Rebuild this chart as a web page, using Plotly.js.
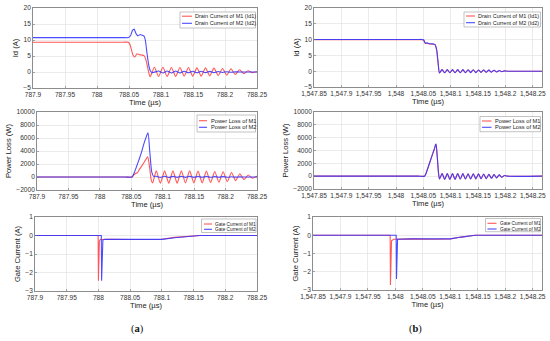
<!DOCTYPE html>
<html><head><meta charset="utf-8">
<script src="https://cdn.plot.ly/plotly-3.0.1.min.js"></script>
<style>html,body{margin:0;padding:0;background:#fff}#c{width:550px;height:341px}</style>
</head><body><div id="c"></div>
<script>
// ---------- tick labels ----------
const xTicksA = [787.9, 787.95, 788, 788.05, 788.1, 788.15, 788.2, 788.25];
const xTickTextA = ['787.9', '787.95', '788', '788.05', '788.1', '788.15', '788.2', '788.25'];
const xTicksB = [1547.85, 1547.9, 1547.95, 1548, 1548.05, 1548.1, 1548.15, 1548.2, 1548.25];
const xTickTextB = ['1,547.85', '1,547.9', '1,547.95', '1,548', '1,548.05', '1,548.1', '1,548.15', '1,548.2', '1,548.25'];

// ---------- (a) drain current ----------
const tIdA1 = [787.9, 788.04, 788.049, 788.0515, 788.056, 788.059, 788.0625, 788.066, 788.070, 788.0735, 788.0765, 788.0800, 788.083,
  788.0897, 788.0963, 788.1030, 788.1096, 788.1163, 788.1229, 788.1296, 788.1362, 788.1429, 788.1495, 788.1562, 788.1628,
  788.1695, 788.1761, 788.1828, 788.1894, 788.1961, 788.2027, 788.2094, 788.2160, 788.2227, 788.2293, 788.2360, 788.2426, 788.2493, 788.25];
const idA1 = [9.3, 9.3, 9.3, 8.6, 5.4, 4.7, 5.7, 5.4, 5.3, 5.1, 3.8, 0.6, -1.5,
  1.5, -1.4, 1.5, -1.4, 1.4, -1.4, 1.4, -1.3, 1.4, -1.3, 1.3, -1.3,
  1.3, -1.2, 1.2, -1.1, 1.1, -1.0, 1.0, -0.8, 0.7, -0.5, 0.4, -0.2, 0.1, 0];
const tIdA2 = [787.9, 788.04, 788.049, 788.0525, 788.0555, 788.058, 788.061, 788.064, 788.0675, 788.0705, 788.0735, 788.0755, 788.078, 788.081, 788.0835, 788.0865,
  788.0963, 788.1030, 788.1096, 788.1163, 788.1229, 788.1296, 788.1362, 788.1429, 788.1495, 788.1562, 788.1628,
  788.1695, 788.1761, 788.1828, 788.1894, 788.1961, 788.2027, 788.2094, 788.2160, 788.2227, 788.25];
const idA2 = [10.75, 10.75, 10.75, 11.4, 13.0, 13.4, 12.0, 11.3, 11.7, 11.5, 11.2, 10.0, 6.0, 2.0, 0.3, -0.2,
  0.3, -0.3, 0.3, -0.3, 0.3, -0.3, 0.25, -0.25, 0.25, -0.25, 0.25,
  -0.2, 0.2, -0.2, 0.15, -0.15, 0.1, -0.1, 0.05, 0, 0];

// ---------- (b) drain current ----------
const tIdB1 = [1547.85, 1548.040, 1548.047, 1548.0505, 1548.0525, 1548.0545, 1548.057, 1548.060, 1548.063, 1548.066, 1548.069, 1548.0715, 1548.0745, 1548.0770, 1548.0795,
  1548.0843, 1548.0890, 1548.0938, 1548.0985, 1548.1033, 1548.1080, 1548.1128, 1548.1175, 1548.1223, 1548.1270, 1548.1318, 1548.1365, 1548.1413,
  1548.1460, 1548.1508, 1548.1555, 1548.1603, 1548.1650, 1548.1698, 1548.1745, 1548.1793, 1548.1840, 1548.1888, 1548.1935, 1548.1983, 1548.2030, 1548.267];
const idB1 = [9.95, 9.95, 9.95, 9.8, 9.0, 8.75, 8.85, 8.65, 8.6, 8.55, 8.5, 8.3, 6.5, 2.5, -0.55,
  0.5, -0.5, 0.5, -0.5, 0.5, -0.5, 0.5, -0.5, 0.5, -0.5, 0.45, -0.45, 0.45,
  -0.45, 0.4, -0.4, 0.4, -0.35, 0.35, -0.3, 0.3, -0.25, 0.2, -0.15, 0.1, 0, 0];
const tIdB2 = tIdB1;
const idB2 = [10.05, 10.05, 10.05, 9.95, 9.2, 8.85, 8.95, 8.75, 8.7, 8.65, 8.6, 8.4, 6.6, 2.6, -0.55,
  0.5, -0.5, 0.5, -0.5, 0.5, -0.5, 0.5, -0.5, 0.5, -0.5, 0.45, -0.45, 0.45,
  -0.45, 0.4, -0.4, 0.4, -0.35, 0.35, -0.3, 0.3, -0.25, 0.2, -0.15, 0.1, 0, 0];

// ---------- (a) power loss ----------
const tPA1 = [787.9, 788.04, 788.051, 788.0535, 788.0565, 788.0595, 788.0625, 788.066, 788.070, 788.0735, 788.0762, 788.0795, 788.0820, 788.0840,
  788.0897, 788.0963, 788.1030, 788.1096, 788.1163, 788.1229, 788.1296, 788.1362, 788.1429, 788.1495, 788.1562, 788.1628,
  788.1695, 788.1761, 788.1828, 788.1894, 788.1961, 788.2027, 788.2094, 788.2160, 788.2227, 788.2293, 788.2360, 788.2426, 788.2493, 788.25];
const pA1 = [0, 0, 0, 250, 550, 650, 1100, 1600, 2200, 2750, 3100, 1200, -600, -900,
  950, -950, 950, -950, 950, -950, 950, -900, 950, -900, 900, -900,
  900, -850, 850, -800, 800, -700, 700, -550, 500, -400, 300, -200, 100, 0];
const tPA2 = [787.9, 788.04, 788.051, 788.054, 788.058, 788.062, 788.066, 788.070, 788.0735, 788.0766, 788.0795, 788.0825, 788.0855,
  788.0897, 788.0963, 788.1030, 788.1096, 788.1163, 788.1229, 788.1296, 788.1362, 788.1429, 788.1495, 788.1562, 788.1628,
  788.1695, 788.1761, 788.1828, 788.1894, 788.1961, 788.2027, 788.2094, 788.2160, 788.2227, 788.2293, 788.25];
const pA2 = [0, 0, 0, 500, 1500, 2600, 3700, 5100, 6100, 6800, 3800, 800, 100,
  120, -60, 120, -60, 100, -50, 100, -50, 100, -50, 80, -40,
  80, -40, 60, -30, 60, -30, 40, -20, 20, 0, 0];

// ---------- (b) power loss ----------
const tPB1 = [1547.85, 1548.04, 1548.052, 1548.0545, 1548.058, 1548.062, 1548.066, 1548.070, 1548.0725, 1548.0732, 1548.0755, 1548.0775, 1548.0795,
  1548.0843, 1548.0890, 1548.0938, 1548.0985, 1548.1033, 1548.1080, 1548.1128, 1548.1175, 1548.1223, 1548.1270, 1548.1318, 1548.1365, 1548.1413,
  1548.1460, 1548.1508, 1548.1555, 1548.1603, 1548.1650, 1548.1698, 1548.1745, 1548.1793, 1548.1840, 1548.1888, 1548.1935, 1548.1983, 1548.2030, 1548.267];
const pB1 = [0, 0, 0, 350, 1200, 2200, 3200, 4150, 4850, 4900, 2900, 700, -450,
  400, -500, 400, -500, 400, -500, 400, -450, 400, -450, 380, -450, 380,
  -420, 350, -400, 330, -380, 300, -330, 260, -270, 200, -180, 100, 0, 0];
const tPB2 = tPB1;
const pB2 = [0, 0, 0, 350, 1200, 2200, 3250, 4250, 4950, 5000, 3000, 700, -450,
  400, -500, 400, -500, 400, -500, 400, -450, 400, -450, 380, -450, 380,
  -420, 350, -400, 330, -380, 300, -330, 260, -270, 200, -180, 100, 0, 0];

// ---------- (a) gate current ----------
const tGA1 = [787.9, 787.9995, 788.0, 788.0008, 788.0015, 788.003, 788.02, 788.05, 788.08, 788.10, 788.12, 788.14, 788.16, 788.25];
const gA1 = [0, 0, -2.45, -0.5, -0.3, -0.22, -0.2, -0.22, -0.22, -0.2, -0.1, -0.03, 0, 0];
const tGA2 = [787.9, 788.0045, 788.005, 788.0058, 788.007, 788.01, 788.02, 788.05, 788.08, 788.10, 788.12, 788.14, 788.16, 788.25];
const gA2 = [0, 0, -2.45, -0.5, -0.25, -0.2, -0.2, -0.22, -0.22, -0.21, -0.12, -0.04, 0, 0];

// ---------- (b) gate current ----------
const tGB1 = [1547.85, 1547.9905, 1547.991, 1547.9918, 1547.993, 1547.997, 1548.03, 1548.07, 1548.10, 1548.12, 1548.145, 1548.267];
const gB1 = [0, 0, -2.72, -0.5, -0.3, -0.22, -0.2, -0.22, -0.2, -0.1, 0, 0];
const tGB2 = [1547.85, 1548.0015, 1548.002, 1548.0028, 1548.004, 1548.03, 1548.07, 1548.10, 1548.12, 1548.145, 1548.267];
const gB2 = [0, 0, -2.4, -0.5, -0.22, -0.2, -0.22, -0.2, -0.1, 0, 0];

// ---------- legend texts ----------
const legId = ['Drain Current of M1 (Id1)', 'Drain Current of M2 (Id2)'];
const legP = ['Power Loss of M1', 'Power Loss of M2'];
const legG = ['Gate Current of M1', 'Gate Current of M2'];

// ---------- build ----------
const RED = 'rgba(255,70,70,0.9)', BLUE = 'rgba(55,55,255,0.9)';
function tr(x, y, c, n, shape) {
  return {x: x, y: y, type: 'scatter', mode: 'lines', xaxis: 'x' + (n === 1 ? '' : n), yaxis: 'y' + (n === 1 ? '' : n),
    line: {color: c, width: 1.1, shape: shape || 'spline', smoothing: 0.6}, showlegend: false, hoverinfo: 'skip'};
}
const data = [
  tr(tIdA1, idA1, RED, 1), tr(tIdA2, idA2, BLUE, 1),
  tr(tIdB1, idB1, RED, 2), tr(tIdB2, idB2, BLUE, 2),
  tr(tPA1, pA1, RED, 3), tr(tPA2, pA2, BLUE, 3),
  tr(tPB1, pB1, RED, 4), tr(tPB2, pB2, BLUE, 4),
  tr(tGA1, gA1, RED, 5, 'linear'), tr(tGA2, gA2, BLUE, 5, 'linear'),
  tr(tGB1, gB1, RED, 6, 'linear'), tr(tGB2, gB2, BLUE, 6, 'linear')
];

const W = 550, H = 341;
const px = v => v / W, py = v => 1 - v / H;
const common = {showline: true, linecolor: '#707070', linewidth: 0.8, mirror: true, ticks: 'inside', ticklen: 2, tickwidth: 0.6,
  tickcolor: '#707070', showgrid: true, gridcolor: '#e2e2e2', gridwidth: 0.7, zeroline: false, automargin: false,
  tickfont: {size: 6.6, color: '#333'}};
function xa(d, anchor, rng, tv, tt) {
  return Object.assign({}, common, {domain: [px(d[0]), px(d[1])], anchor: anchor, range: rng, tickmode: 'array', tickvals: tv, ticktext: tt,
    title: {text: 'Time (µs)', font: {size: 7.6, color: '#222'}, standoff: 1}});
}
function ya(d, anchor, rng, dt, title) {
  return Object.assign({}, common, {domain: [py(d[1]), py(d[0])], anchor: anchor, range: rng, dtick: dt, tick0: 0, tickformat: 'd',
    title: {text: title, font: {size: 7.6, color: '#222'}, standoff: 3}});
}
const rA = [787.9, 788.25], rB = [1547.85, 1548.267];
const layout = {
  width: W, height: H, margin: {l: 0, r: 0, t: 0, b: 0}, paper_bgcolor: '#fff', plot_bgcolor: '#fff',
  font: {family: 'Liberation Sans, Arial, sans-serif', color: '#222'}, showlegend: false,
  xaxis: xa([33, 257], 'y', rA, xTicksA, xTickTextA), yaxis: ya([8, 88], 'x', [-5, 20], 5, 'Id (A)'),
  xaxis2: xa([314, 542], 'y2', rB, xTicksB, xTickTextB), yaxis2: ya([8, 87], 'x2', [-5, 20], 5, 'Id (A)'),
  xaxis3: xa([37, 257], 'y3', rA, xTicksA, xTickTextA), yaxis3: ya([112, 190], 'x3', [-2000, 10000], 2000, 'Power Loss (W)'),
  xaxis4: xa([314, 542], 'y4', rB, xTicksB, xTickTextB), yaxis4: ya([112, 189], 'x4', [-2000, 10000], 2000, 'Power Loss (W)'),
  xaxis5: xa([35, 257], 'y5', rA, xTicksA, xTickTextA), yaxis5: ya([217, 291], 'x5', [-3, 1], 1, 'Gate Current (A)'),
  xaxis6: xa([313, 542], 'y6', rB, xTicksB, xTickTextB), yaxis6: ya([217, 290], 'x6', [-3, 1], 1, 'Gate Current (A)'),
  shapes: [], annotations: []
};
function addLegend(box, rows, line, tx, texts, fs) {
  layout.shapes.push({type: 'rect', xref: 'paper', yref: 'paper', x0: px(box[0]), x1: px(box[1]), y0: py(box[3]), y1: py(box[2]),
    line: {color: '#9a9a9a', width: 0.6}, fillcolor: '#fff', layer: 'above'});
  [RED, BLUE].forEach((c, i) => {
    layout.shapes.push({type: 'line', xref: 'paper', yref: 'paper', x0: px(line[0]), x1: px(line[1]), y0: py(rows[i]), y1: py(rows[i]),
      line: {color: c, width: 1.1}, layer: 'above'});
    layout.annotations.push({xref: 'paper', yref: 'paper', x: px(tx), y: py(rows[i]), xanchor: 'left', yanchor: 'middle', showarrow: false,
      text: texts[i], font: {size: fs, color: '#222'}});
  });
}
addLegend([180, 255.5, 12, 28], [16.2, 23.3], [182, 192], 193, legId, 5.5);
addLegend([464, 540.5, 12, 27], [16, 22.7], [466, 475], 476, legId, 5.5);
addLegend([197, 255.5, 115, 132], [120.7, 127.3], [199, 207], 208.5, legP, 5.7);
addLegend([480, 540.5, 116.5, 131.7], [121, 127.3], [482, 491.5], 492.5, legP, 5.7);
addLegend([201.5, 256, 219, 232.5], [224, 229.3], [204, 212], 213, legG, 4.75);
addLegend([485.5, 540.5, 218.5, 231.7], [223.3, 229], [487.5, 496.5], 497.5, legG, 4.75);
layout.annotations.push({xref: 'paper', yref: 'paper', x: px(137.7), y: py(329), xanchor: 'center', yanchor: 'middle', showarrow: false,
  text: '(<b>a</b>)', font: {size: 10.5, family: 'Liberation Serif, Times New Roman, serif', color: '#111'}});
layout.annotations.push({xref: 'paper', yref: 'paper', x: px(415), y: py(328.5), xanchor: 'center', yanchor: 'middle', showarrow: false,
  text: '(<b>b</b>)', font: {size: 10.5, family: 'Liberation Serif, Times New Roman, serif', color: '#111'}});

Plotly.newPlot('c', data, layout, {staticPlot: true, displayModeBar: false});
</script></body></html>
